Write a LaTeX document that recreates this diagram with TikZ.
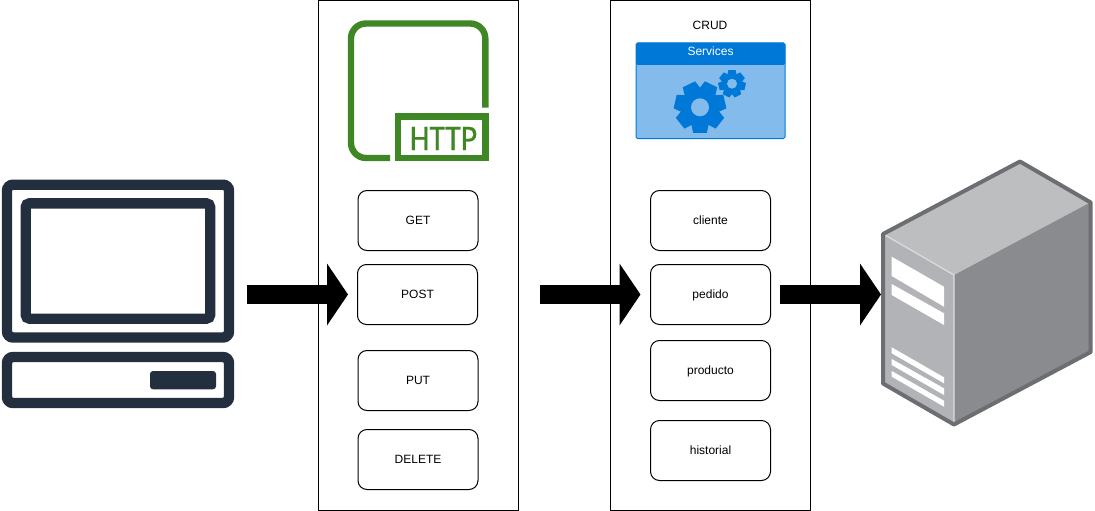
\documentclass[tikz,border=0pt]{standalone}
\usepackage{fontspec}
\setmainfont{Liberation Sans}
\newfontfamily\httpfont[FakeBold=0.6]{Carlito}
\usetikzlibrary{arrows.meta}
\definecolor{pcnavy}{HTML}{232F3E}
\definecolor{httpgreen}{HTML}{3F8624}
\definecolor{svcblue}{HTML}{0078D7}
\definecolor{svclight}{HTML}{83BBEC}
\definecolor{srvedge}{HTML}{6D6E71}
\definecolor{srvtop}{HTML}{BCBEC0}
\definecolor{srvleft}{HTML}{B1B3B6}
\definecolor{srvright}{HTML}{898B8E}
\definecolor{srvlight}{HTML}{DCDDDE}
\tikzset{
  colbox/.style={draw,line width=1pt,minimum width=200pt,minimum height=510pt,inner sep=0pt,outer sep=0pt},
  opbox/.style={draw,line width=1pt,rounded corners=9pt,minimum width=120pt,minimum height=60pt,inner sep=0pt,outer sep=0pt,text height=9.5pt,text depth=1.5pt,font=\fontsize{12}{14}\selectfont},
  bigarrow/.style={line width=19pt,-{Triangle[length=21pt,width=61pt]}},
  pcline/.style={draw=pcnavy,line width=10.4pt},
  httpline/.style={draw=httpgreen,line width=6.4pt},
  stripe/.style={fill=white}
}
\newcommand{\gearicon}[4]{
  \fill[svcblue] (#1) circle (#2);
  \foreach \a in {0,...,6}
    \fill[svcblue,shift={(#1)},rotate=\a*51.43+#4] (-0.48*#3,0)  -- (-0.27*#3,-#3) -- (0.27*#3,-#3) -- (0.48*#3,0) -- cycle;
}
\begin{document}
\begin{tikzpicture}[line cap=butt,line join=miter,x=1pt,y=-1pt]
  \useasboundingbox (0,0) rectangle (1095,511);
  \node[colbox] (httpcol) at (418,255.5) {};
  \node[colbox] (crudcol) at (710.5,255.5) {};
  \node[opbox] (get) at (418,220.5) {GET};
  \node[opbox] (post) at (417.5,294.5) {POST};
  \node[opbox] (put) at (418,380.5) {PUT};
  \node[opbox] (delete) at (418,459.5) {DELETE};
  \node[opbox] (cliente) at (710.5,220.5) {cliente};
  \node[opbox] (pedido) at (710.5,294.5) {pedido};
  \node[opbox] (producto) at (710.5,370.5) {producto};
  \node[opbox] (historial) at (710.5,450.5) {historial};
  \node[font=\fontsize{12}{14}\selectfont] (crud) at (710,25) {CRUD};
  \draw[pcline,rounded corners=6pt] (7,184.7) rectangle (229,337.5);
  \draw[pcline,rounded corners=4pt] (25.7,203.3) rectangle (210.2,318.7);
  \draw[pcline,rounded corners=6pt] (7,357) rectangle (229,403);
  \fill[pcnavy,rounded corners=3pt] (150,371) rectangle (216,389.3);
  \draw[httpline,rounded corners=15pt] (485.3,107.5) -- (485.3,23.5) -- (351,23.5) -- (351,158) -- (390,158);
  \draw[httpline] (398.2,116.4) rectangle (485.5,158.2);
  \node[text=httpgreen,font=\httpfont\fontsize{36}{36}\selectfont,xscale=0.88,inner sep=0pt] (httplabel) at (443.5,138.5) {HTTP};
  \filldraw[draw=svcblue,fill=svclight,line width=1pt,rounded corners=1.5pt] (636,43) rectangle (785,138.5);
  \fill[svcblue,rounded corners=1.5pt] (636,43) rectangle (785,65);
  \node[text=white,font=\fontsize{12}{14}\selectfont] (services) at (710.5,51) {Services};
  \gearicon{700,107.3}{18.5}{25.5}{180}
  \fill[svclight] (700,107.3) circle (9);
  \gearicon{732,83.7}{10}{13.5}{0}
  \fill[svclight] (732,83.7) circle (5);
  \fill[srvtop] (1020,161) -- (1091,202) -- (954,275) -- (883,234) -- cycle;
  \fill[srvleft] (883,234) -- (954,275) -- (954,425) -- (883,384) -- cycle;
  \fill[srvright] (1091,202) -- (1091,352) -- (954,425) -- (954,275) -- cycle;
  \draw[srvlight,line width=1.2pt] (884,234.5) -- (954,275) -- (954,424);
  \fill[stripe] (891.7,256.7) -- (944,286.7) -- (944,306.7) -- (891.7,276) -- cycle;
  \fill[stripe] (891.7,284) -- (944,313.3) -- (944,325) -- (891.7,295) -- cycle;
  \fill[stripe] (891.7,347.3) -- (944,377.3) -- (944,383.3) -- (891.7,353.3) -- cycle;
  \fill[stripe] (891.7,359) -- (944,388.3) -- (944,395) -- (891.7,365) -- cycle;
  \fill[stripe] (891.7,371) -- (944,400.7) -- (944,406.7) -- (891.7,376.7) -- cycle;
  \draw[srvedge,line width=4pt,line join=round] (1020,161.5) -- (1090.7,202.5) -- (1090.7,352) -- (954,424.5) -- (883,383.5) -- (883,234) -- cycle;
  \coordinate (pcout) at (247,294.5);
  \coordinate (midout) at (540,294.5);
  \coordinate (server) at (881,294.5);
  \draw[bigarrow,shorten >=9.5pt] (pcout) -- (post.west);
  \draw[bigarrow,shorten >=10pt] (midout) -- (pedido.west);
  \draw[bigarrow,shorten <=9.5pt] (pedido.east) -- (server);
\end{tikzpicture}
\end{document}
